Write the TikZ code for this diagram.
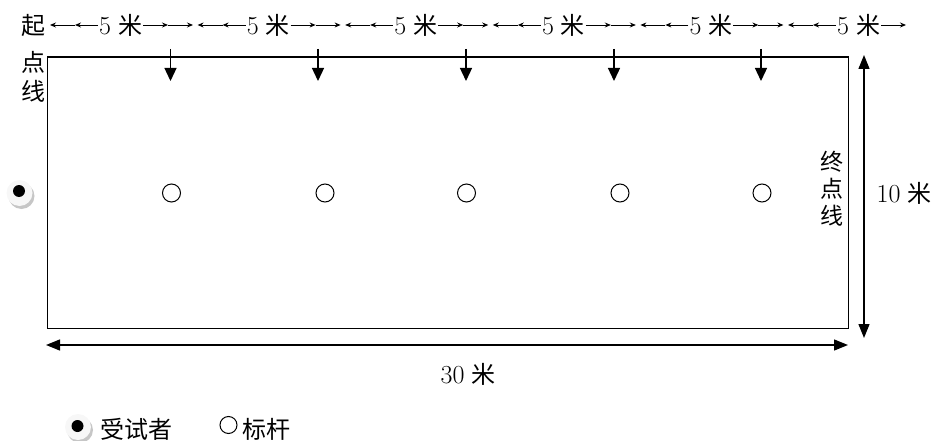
\documentclass[tikz,border=0pt]{standalone}
\usepackage{fontspec}
\newfontfamily\cjk{Noto Sans CJK SC}
\usetikzlibrary{arrows.meta}
\tikzset{
  lbl/.style={inner sep=0pt,font=\fontsize{23}{27}\selectfont},
  num/.style={inner sep=0pt,font=\fontsize{26}{30}\selectfont},
  sarrow/.style={line width=0.9pt,-{Stealth[length=6pt,width=5pt]}},
  bigarrow/.style={line width=1.3pt,-{Triangle[length=13pt,width=12pt]}},
  dimarrow/.style={line width=1.3pt,{Triangle[length=14pt,width=11pt]}-{Triangle[length=14pt,width=11pt]}},
  field/.style={draw,line width=1.3pt},
  pole/.style={draw,line width=1pt,circle,minimum size=18pt,inner sep=0pt},
}
\newcommand{\mi}{\hspace*{7pt}{\cjk\fontsize{24}{28}\selectfont 米}}
\begin{document}
\begin{tikzpicture}[x=1pt,y=-1pt]
\useasboundingbox (0,0) rectangle (937,441);
% field
\draw[field] (47.5,57) rectangle (848.5,328.5);
% start line label
\node[lbl,font=\cjk\fontsize{24}{29}\selectfont] (qi) at (33.5,25) {起};
\node[lbl,font=\cjk\fontsize{24}{29}\selectfont,align=center] (dianxian) at (33.5,77) {点\\线};
% top segment labels and arrows
\foreach \i in {0,...,5}{
  \pgfmathsetmacro{\b}{99+147.6*\i}
  \node[num,anchor=base west] (t\i) at (\b,35) {5\mi};
  \coordinate (a\i) at (\b-49,25);
  \coordinate (m\i) at (\b-24,25);
  \coordinate (n\i) at (\b-1,25);
  \coordinate (p\i) at (\b+44,25);
  \coordinate (q\i) at (\b+69,25);
  \coordinate (r\i) at (\b+94,25);
  \draw[sarrow] (m\i) -- (a\i);
  \draw[sarrow] (n\i) -- (m\i);
  \draw[sarrow] (p\i) -- (q\i);
}
\foreach \i in {0,...,4}{
  \draw[sarrow] (q\i) -- (r\i);
}
% down arrows
\foreach \x [count=\k] in {170.5,318,466,614,761}{
  \coordinate (d\k) at (\x,49);
  \coordinate (e\k) at (\x,81);
  \draw[bigarrow] (d\k) -- (e\k);
}
% poles
\foreach \x [count=\k] in {171.5,325,466.5,620,762}{
  \node[pole] (pole\k) at (\x,193) {};
}
% subject
\fill[gray!45] (21.5,196) circle (13);
\fill[gray!6] (19.5,193) circle (13);
\fill[black] (19,191) circle (6);
% finish line label
\node[lbl,font=\cjk\fontsize{23}{27}\selectfont,align=center] (zhong) at (832,189) {终\\点\\线};
% 10 m dimension
\coordinate (vtop) at (864,55);
\coordinate (vbot) at (864,338);
\draw[dimarrow] (vtop) -- (vbot);
\node[num] (ten) at (904,193) {10\mi};
% 30 m dimension
\coordinate (hl) at (46,345);
\coordinate (hr) at (848,345);
\draw[dimarrow] (hl) -- (hr);
\node[num] (thirty) at (468,374) {30\mi};
% legend
\fill[gray!45] (80,430) circle (13);
\fill[gray!6] (78,427) circle (13);
\fill[black] (77.5,426) circle (6);
\node[lbl,anchor=west,font=\cjk\fontsize{24}{28}\selectfont] (leg1) at (100,429) {受试者};
\node[draw,line width=1pt,circle,minimum size=17pt,inner sep=0pt] (legpole) at (228.5,425) {};
\node[lbl,anchor=west,font=\cjk\fontsize{24}{28}\selectfont] (leg2) at (242,429) {标杆};
\end{tikzpicture}
\end{document}
